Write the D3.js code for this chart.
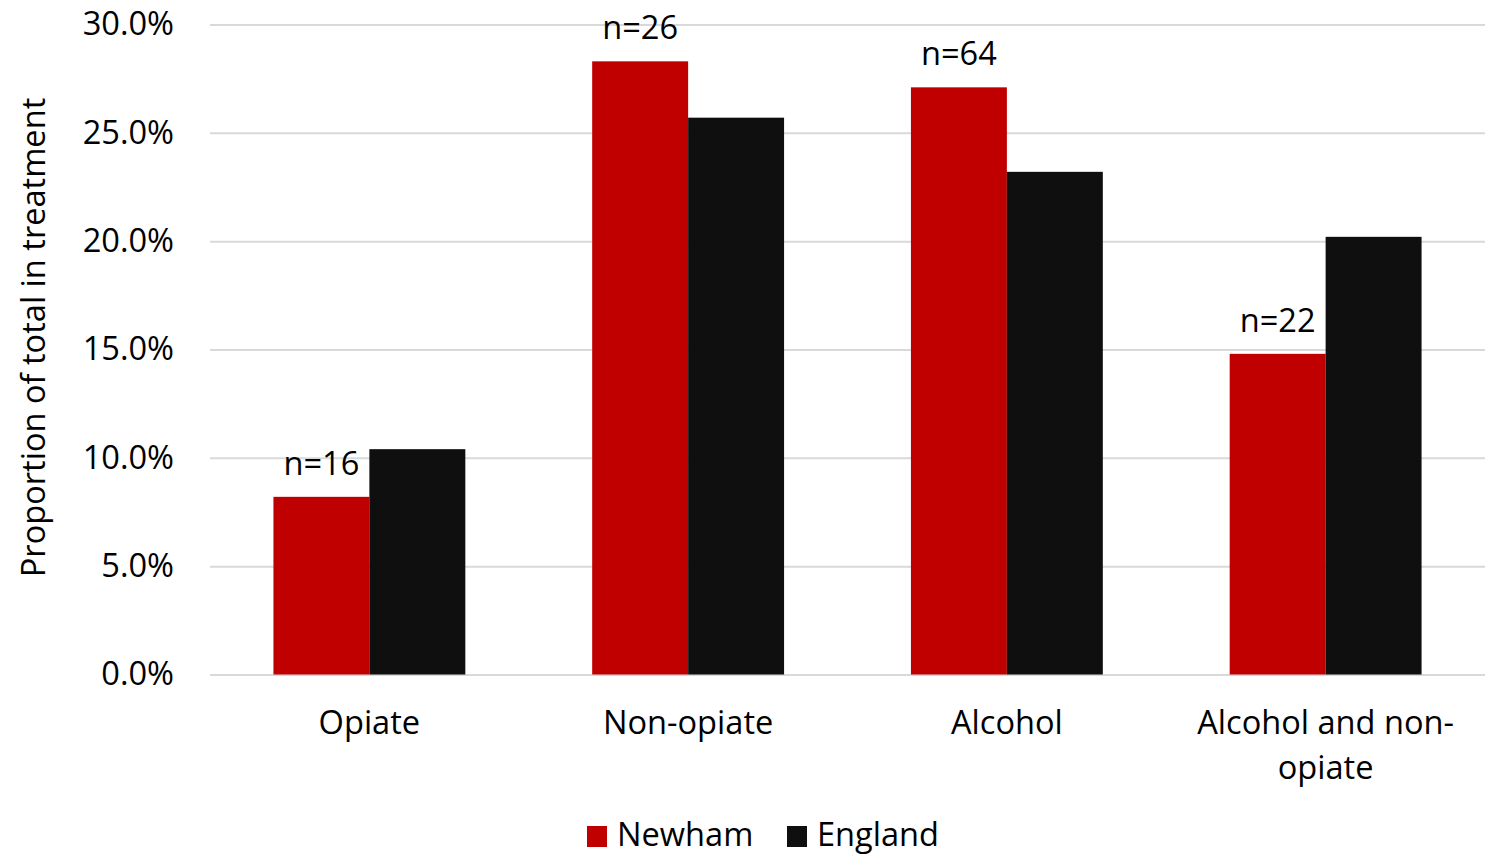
<!DOCTYPE html>
<html>
<head>
<meta charset="utf-8">
<script src="https://cdn.jsdelivr.net/npm/d3@7"></script>
<style>
  html, body { margin: 0; padding: 0; background: #ffffff; }
  svg { display: block; font-family: "Open Sans", sans-serif; }
</style>
</head>
<body>
<svg id="chart" width="1489" height="856"></svg>
<script>
// Drug treatment groups and the share of people in treatment, Newham vs England
const categories = ["Opiate", "Non-opiate", "Alcohol", "Alcohol and non-opiate"];
const categoryLines = [["Opiate"], ["Non-opiate"], ["Alcohol"], ["Alcohol and non-", "opiate"]];
const seriesNames = ["Newham", "England"];
const newhamValues = [8.2, 28.3, 27.1, 14.8];
const englandValues = [10.4, 25.7, 23.2, 20.2];
const newhamCounts = ["n=16", "n=26", "n=64", "n=22"];
const yTicks = [0, 5, 10, 15, 20, 25, 30];
const seriesColors = ["#c00000", "#0f0f0f"];

const FONT = "'Open Sans', sans-serif";
const FS = 32.6;

const svg = d3.select("#chart");
const margin = { left: 210, right: 4, top: 24.5, bottom: 181.5 };
const W = 1489, H = 856;

const x0 = d3.scaleBand()
  .domain(categories)
  .range([margin.left, W - margin.right])
  .paddingInner(0.398)
  .paddingOuter(0.199);
const x1 = d3.scaleBand()
  .domain(seriesNames)
  .range([0, x0.bandwidth()]);
const y = d3.scaleLinear()
  .domain([0, 30])
  .range([H - margin.bottom, margin.top]);
const color = d3.scaleOrdinal().domain(seriesNames).range(seriesColors);

// Horizontal gridlines with percentage labels
const yAxis = d3.axisLeft(y)
  .tickValues(yTicks)
  .tickSize(-(W - margin.left - margin.right))
  .tickPadding(36)
  .tickFormat(d => d.toFixed(1) + "%");
const gy = svg.append("g")
  .attr("transform", `translate(${margin.left},0)`)
  .call(yAxis);
gy.select(".domain").remove();
gy.selectAll(".tick line").attr("stroke", "#d9d9d9").attr("stroke-width", 2);
gy.selectAll(".tick text")
  .attr("fill", "#000")
  .attr("font-size", FS)
  .attr("font-family", FONT);

// Bars
const rows = categories.map((c, i) => ({
  category: c,
  values: [
    { series: "Newham", value: newhamValues[i] },
    { series: "England", value: englandValues[i] }
  ],
  label: newhamCounts[i]
}));

const groups = svg.append("g").selectAll("g")
  .data(rows)
  .join("g")
  .attr("transform", d => `translate(${x0(d.category)},0)`);

groups.selectAll("rect")
  .data(d => d.values)
  .join("rect")
  .attr("x", d => x1(d.series))
  .attr("width", x1.bandwidth())
  .attr("y", d => y(d.value))
  .attr("height", d => y(0) - y(d.value))
  .attr("fill", d => color(d.series));

// Count labels above Newham bars
groups.append("text")
  .attr("x", x1("Newham") + x1.bandwidth() / 2)
  .attr("y", d => y(d.values[0].value) - 22)
  .attr("text-anchor", "middle")
  .attr("font-size", FS)
  .attr("fill", "#000")
  .text(d => d.label);

// Category labels
const catG = svg.append("g");
categories.forEach((c, i) => {
  const cx = x0(c) + x0.bandwidth() / 2;
  const t = catG.append("text")
    .attr("x", cx)
    .attr("y", 734)
    .attr("text-anchor", "middle")
    .attr("font-size", FS)
    .attr("fill", "#000");
  categoryLines[i].forEach((line, j) => {
    t.append("tspan")
      .attr("x", cx)
      .attr("dy", j === 0 ? 0 : 45)
      .text(line);
  });
});

// Y axis title
svg.append("text")
  .attr("transform", `translate(45,${(y(0) + y(30)) / 2 - 12}) rotate(-90)`)
  .attr("text-anchor", "middle")
  .attr("font-size", FS)
  .attr("fill", "#000")
  .text("Proportion of total in treatment");

// Legend
const legend = svg.append("g");
const legendItems = [
  { name: "Newham", x: 587 },
  { name: "England", x: 787 }
];
legendItems.forEach(it => {
  legend.append("rect")
    .attr("x", it.x)
    .attr("y", 826)
    .attr("width", 20)
    .attr("height", 21)
    .attr("fill", color(it.name));
  legend.append("text")
    .attr("x", it.x + 30)
    .attr("y", 846)
    .attr("font-size", FS)
    .attr("fill", "#000")
    .text(it.name);
});
</script>
</body>
</html>
